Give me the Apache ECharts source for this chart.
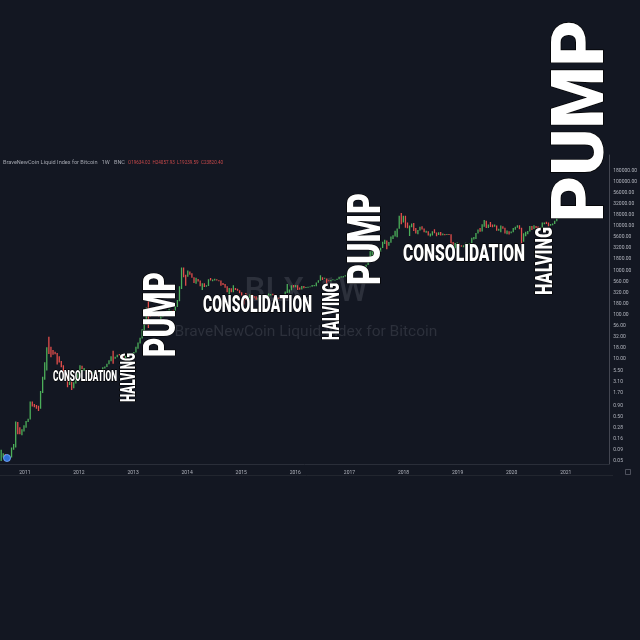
<!DOCTYPE html>
<html><head><meta charset="utf-8">
<script src="https://cdn.jsdelivr.net/npm/echarts@6/dist/echarts.min.js"></script>
<style>html,body{margin:0;padding:0;background:#131722;}#c{width:640px;height:640px;}</style>
</head><body><div id="c"></div>
<script>
// ---- data: two-week candles of the BraveNewCoin Liquid Index (BLX) ----
const firstCandleMid = Date.UTC(2010, 6, 25);
const stepDays = 14;
const opens = [
 0.05,0.07,0.07,0.065,0.06,0.062,0.095,0.11,0.3,0.28,0.21,0.24,
 0.3,0.39,0.43,1.05,0.96,0.9,0.86,0.75,1.75,3.4,6.5,16.5,16.0,15.4,13.9,13.5,10.2,8.5,7.0,5.5,4.2,3.0,3.0,2.3,2.8,3.2,
 4.7,6.8,5.6,5.7,4.7,4.9,4.7,4.9,5.2,5.1,5.1,5.2,6.4,6.7,7.6,8.9,11.4,10.5,11.0,12.3,12.2,11.8,10.9,11.8,12.5,13.4,
 13.4,14.2,17.4,23.0,29.9,46,64,142,119,112,123,129,100,95,96,96,105,120,125,126,121,158,205,420,1130,870,730,
 920,830,690,610,630,570,460,500,440,450,630,600,600,630,600,590,510,480,410,330,385,325,400,375,350,315,
 275,250,225,245,275,260,255,223,235,237,237,232,243,270,288,280,230,235,233,237,262,315,335,357,435,420,
 450,385,375,440,400,410,420,430,450,456,530,580,665,650,655,585,580,600,605,615,640,715,715,740,770,890,
 900,920,1030,1050,1270,970,1080,1180,1330,1740,2050,2900,2600,2560,2830,3220,4150,4600,3700,4350,5700,5800,6300,8700,15000,13500,
 17000,11500,9000,10200,11400,7900,6900,8000,9300,8500,7350,7600,6150,6750,7400,7000,6400,7200,6500,6600,6300,6450,6400,4000,3400,4000,
 4050,3650,3500,3650,3850,4000,4100,5050,5200,6900,8000,7800,10200,11000,10500,10800,10300,9600,10300,8200,8300,9500,8800,7300,7500,7150,
 7350,8900,9400,10350,8550,5200,6250,6900,7550,9800,9200,9650,9350,9100,9150,11800,11850,11500,10450,10750,11300,13000,15500,18700,19100
];
const closes = [
 0.07,0.07,0.065,0.06,0.062,0.095,0.11,0.3,0.28,0.21,0.24,0.3,
 0.39,0.43,1.05,0.96,0.9,0.86,0.75,1.75,3.4,6.5,16.5,16.0,15.4,13.9,13.5,10.2,8.5,7.0,5.5,4.2,3.0,3.0,2.3,2.8,3.2,4.7,
 6.8,5.6,5.7,4.7,4.9,4.7,4.9,5.2,5.1,5.1,5.2,6.4,6.7,7.6,8.9,11.4,10.5,11.0,12.3,12.2,11.8,10.9,11.8,12.5,13.4,13.4,
 14.2,17.4,23.0,29.9,46,64,142,119,112,123,129,100,95,96,96,105,120,125,126,121,158,205,420,1130,870,730,920,
 830,690,610,630,570,460,500,440,450,630,600,600,630,600,590,510,480,410,330,385,325,400,375,350,315,275,
 250,225,245,275,260,255,223,235,237,237,232,243,270,288,280,230,235,233,237,262,315,335,357,435,420,450,
 385,375,440,400,410,420,430,450,456,530,580,665,650,655,585,580,600,605,615,640,715,715,740,770,890,900,
 920,1030,1050,1270,970,1080,1180,1330,1740,2050,2900,2600,2560,2830,3220,4150,4600,3700,4350,5700,5800,6300,8700,15000,13500,17000,
 11500,9000,10200,11400,7900,6900,8000,9300,8500,7350,7600,6150,6750,7400,7000,6400,7200,6500,6600,6300,6450,6400,4000,3400,4000,4050,
 3650,3500,3650,3850,4000,4100,5050,5200,6900,8000,7800,10200,11000,10500,10800,10300,9600,10300,8200,8300,9500,8800,7300,7500,7150,7350,
 8900,9400,10350,8550,5200,6250,6900,7550,9800,9200,9650,9350,9100,9150,11800,11850,11500,10450,10750,11300,13000,15500,18700,19100,24000
];
const lows = [
 0.05,0.06,0.06,0.058,0.058,0.06,0.09,0.1,0.2,0.2,0.19,0.23,
 0.28,0.38,0.43,0.85,0.82,0.75,0.67,0.75,1.7,3.4,5.5,13,11,12.5,12.8,7.5,8.3,6.5,4.5,4.1,2.3,2.6,2.0,2.2,2.8,3.2,
 4.7,5.5,5.4,4.3,4.6,4.6,4.7,4.8,4.9,4.9,5.0,5.2,6.1,6.6,7.6,8.9,7.8,10.1,11.0,12.0,11.5,10.4,10.6,11.7,12.4,13.2,
 13.2,14.0,17.0,22.5,29,38,64,50,90,105,120,98,90,66,88,95,104,115,124,110,120,150,200,380,700,450,720,
 800,680,520,500,560,440,360,420,425,445,590,570,590,595,570,450,465,405,320,280,320,320,360,345,305,270,
 170,215,215,235,255,235,218,218,230,232,220,230,242,270,275,210,200,225,230,235,262,310,312,355,410,415,
 360,365,370,395,400,405,415,428,440,438,525,580,610,645,480,570,570,600,590,605,635,690,695,730,765,780,
 750,890,950,1040,970,890,1060,1180,1330,1700,2050,2300,2400,1900,2600,3200,3950,3000,3600,4200,5100,5800,5600,8700,11000,12000,
 9200,8900,6000,9400,7700,6800,6500,7900,8400,7300,7050,6100,5800,6100,6900,5900,6300,6100,6250,6200,6300,6300,4000,3400,3150,3650,
 3550,3400,3350,3650,3700,3900,4080,5000,5100,6800,7450,7550,9700,9100,9100,9500,9350,9600,7800,7800,7300,8700,6800,6500,6450,6900,
 7300,8250,9150,8500,3900,4450,5900,6500,7500,8150,8600,9000,8850,9050,9100,10950,11100,9900,10200,10400,11200,12900,14800,16300,17600
];
const highs = [
 0.09,0.075,0.072,0.066,0.065,0.1,0.12,0.39,0.38,0.29,0.26,0.32,
 0.4,0.45,1.1,1.1,0.97,0.92,0.88,1.9,4.0,8.5,18.5,31.9,19,16,14.5,13.7,11.5,9.0,7.2,5.6,4.3,3.6,3.1,3.0,3.4,4.8,
 7.2,7.0,6.3,5.8,5.0,5.4,5.0,5.3,5.2,5.2,5.3,6.5,6.8,7.8,9.4,11.6,15.4,11.3,12.5,12.9,12.2,11.9,11.9,12.6,13.6,13.6,
 14.3,19.0,23.5,30.0,47,74,145,266,145,127,135,130,110,98,100,107,124,135,128,130,160,215,440,1160,1160,800,1000,
 950,860,700,680,640,590,510,510,460,630,670,620,650,630,600,590,520,490,440,400,395,460,400,385,355,320,
 280,310,260,290,295,265,260,240,245,243,240,255,300,295,298,282,240,245,240,272,335,495,370,460,465,465,
 460,410,445,445,420,425,432,465,465,535,600,780,700,680,660,600,610,630,615,645,720,740,750,775,900,1150,
 920,1035,1060,1275,1330,1085,1215,1335,1830,2700,2950,2980,2650,2900,3250,4450,4900,4700,4400,5800,6200,7800,8800,17000,19700,17200,
 17100,12000,10300,11500,11700,9100,8200,9700,9900,8800,7800,7600,6800,7600,8500,7150,7300,7400,6800,6650,6650,6600,6500,4400,4150,4250,
 4100,3700,3700,4200,4050,4150,5450,5650,7000,8400,9100,11000,13800,13200,10900,12300,10900,10900,10300,8650,10350,9900,9200,7900,7650,7550,
 9000,9600,10500,10500,9150,6900,7450,7700,10050,10000,10400,10000,9800,9450,12000,12100,12450,12050,11100,11500,13200,15900,18800,19850,24200
];
const yearTicks = [2011,2012,2013,2014,2015,2016,2017,2018,2019,2020,2021];
const priceTicks = [0.05,0.09,0.16,0.28,0.5,0.9,1.7,3.1,5.5,10,18,32,56,100,180,320,560,1000,1800,3200,5600,10000,18000,32000,56000,100000,180000];
const annotations = [
 {text:'CONSOLIDATION', cx:85,    cy:377,   len:64,  capH:10, vertical:false},
 {text:'HALVING',       cx:130,   cy:377.5, len:49,  capH:14, vertical:true},
 {text:'PUMP',          cx:164,   cy:314.5, len:85,  capH:32, vertical:true},
 {text:'CONSOLIDATION', cx:257.5, cy:306,   len:109, capH:17, vertical:false},
 {text:'HALVING',       cx:333.5, cy:311.5, len:57,  capH:17, vertical:true},
 {text:'PUMP',          cx:368.5, cy:239,   len:92,  capH:33, vertical:true},
 {text:'CONSOLIDATION', cx:464,   cy:255,   len:122, capH:17, vertical:false},
 {text:'HALVING',       cx:546.5, cy:261,   len:68,  capH:17, vertical:true},
 {text:'PUMP',          cx:585,   cy:121,   len:202, capH:52, vertical:true}
];
const legendTitle = 'BraveNewCoin Liquid Index for Bitcoin   1W   BNC';
const legendValues = 'O19634.02  H24057.93  L19239.59  C23820.40';

// ---- build ----
const DAY = 86400000;
const candleData = opens.map((o, i) => [firstCandleMid + i * stepDays * DAY, o, closes[i], lows[i], highs[i]]);

const measureCtx = document.createElement('canvas').getContext('2d');
function fitText(text, font, targetWidth) {
  measureCtx.font = font;
  return targetWidth / measureCtx.measureText(text).width;
}
function annotationElement(a) {
  const fs = a.capH / 0.711;
  const font = '900 ' + fs.toFixed(2) + 'px Roboto, "Liberation Sans", sans-serif';
  return {
    type: 'text', x: a.cx, y: a.cy, z: 100,
    rotation: a.vertical ? Math.PI / 2 : 0,
    scaleX: fitText(a.text, font, a.len), scaleY: 1,
    style: { text: a.text, font: font, fill: '#ffffff', stroke: '#000000', lineWidth: 1.4,
             align: 'center', verticalAlign: 'middle', textAlign: 'center', textVerticalAlign: 'middle' }
  };
}
const legendFont = '5.5px Roboto, sans-serif';

const up = '#4caf5a', down = '#e24e4b';
const chart = echarts.init(document.getElementById('c'));
chart.setOption({
  backgroundColor: '#131722',
  animation: false,
  grid: { left: 0, right: 27, top: 155, bottom: 176, containLabel: false },
  xAxis: {
    type: 'value',
    min: Date.UTC(2010, 6, 17), max: Date.UTC(2021, 9, 21),
    axisLine: { show: true, onZero: false, lineStyle: { color: '#2a2e39', width: 1 } },
    axisTick: { show: false }, splitLine: { show: false },
    axisLabel: {
      customValues: yearTicks.map(y => Date.UTC(y, 0, 1)),
      formatter: v => String(new Date(v).getUTCFullYear()),
      color: '#b2b5be', fontSize: 5, margin: 6, fontFamily: 'Roboto'
    }
  },
  yAxis: {
    type: 'log', logBase: 10, position: 'right',
    min: 0.0427, max: 402000,
    axisLine: { show: true, lineStyle: { color: '#434651', width: 1 } },
    axisTick: { show: false }, splitLine: { show: false },
    axisLabel: {
      customValues: priceTicks,
      formatter: v => Number(v).toFixed(2),
      color: '#b2b5be', fontSize: 5, margin: 4, fontFamily: 'Roboto'
    }
  },
  series: [{
    type: 'candlestick',
    data: candleData,
    encode: { x: 0, y: [1, 2, 3, 4] },
    large: true, largeThreshold: 50,
    barWidth: 1.2,
    itemStyle: { color: up, color0: down, borderColor: up, borderColor0: down, borderColorDoji: up, borderWidth: 1.3 },
    z: 5
  }],
  graphic: { elements: [
    { type: 'text', x: 306, y: 293, z: 0, silent: true,
      style: { text: 'BLX, 1W', font: '500 33px Roboto, sans-serif', fill: '#2c303b',
               align: 'center', verticalAlign: 'middle', textAlign: 'center', textVerticalAlign: 'middle' } },
    { type: 'text', x: 306, y: 332, z: 0, silent: true,
      style: { text: 'BraveNewCoin Liquid Index for Bitcoin', font: '15.5px Roboto, sans-serif', fill: '#2c303b',
               align: 'center', verticalAlign: 'middle', textAlign: 'center', textVerticalAlign: 'middle' } },
    { type: 'text', x: 3, y: 163, z: 10, scaleX: fitText(legendTitle, legendFont, 122),
      style: { text: legendTitle, font: legendFont, fill: '#a3a6af', align: 'left', textAlign: 'left', verticalAlign: 'middle', textVerticalAlign: 'middle' } },
    { type: 'text', x: 128, y: 163, z: 10, scaleX: fitText(legendValues, legendFont, 95),
      style: { text: legendValues, font: legendFont, fill: '#c8494a', align: 'left', textAlign: 'left', verticalAlign: 'middle', textVerticalAlign: 'middle' } },
    { type: 'line', z: 10, shape: { x1: 0, y1: 475.5, x2: 613, y2: 475.5 }, style: { stroke: '#22262f', lineWidth: 1 } },
    { type: 'circle', z: 20, shape: { cx: 7, cy: 458, r: 3.5 }, style: { fill: '#2f6fd6', stroke: '#7fb0ff', lineWidth: 0.8 } },
    { type: 'rect', z: 10, shape: { x: 625.5, y: 469.5, width: 5, height: 5 }, style: { fill: 'none', stroke: '#5d606b', lineWidth: 0.8 } }
  ].concat(annotations.map(annotationElement)) }
});
</script>
</body></html>
